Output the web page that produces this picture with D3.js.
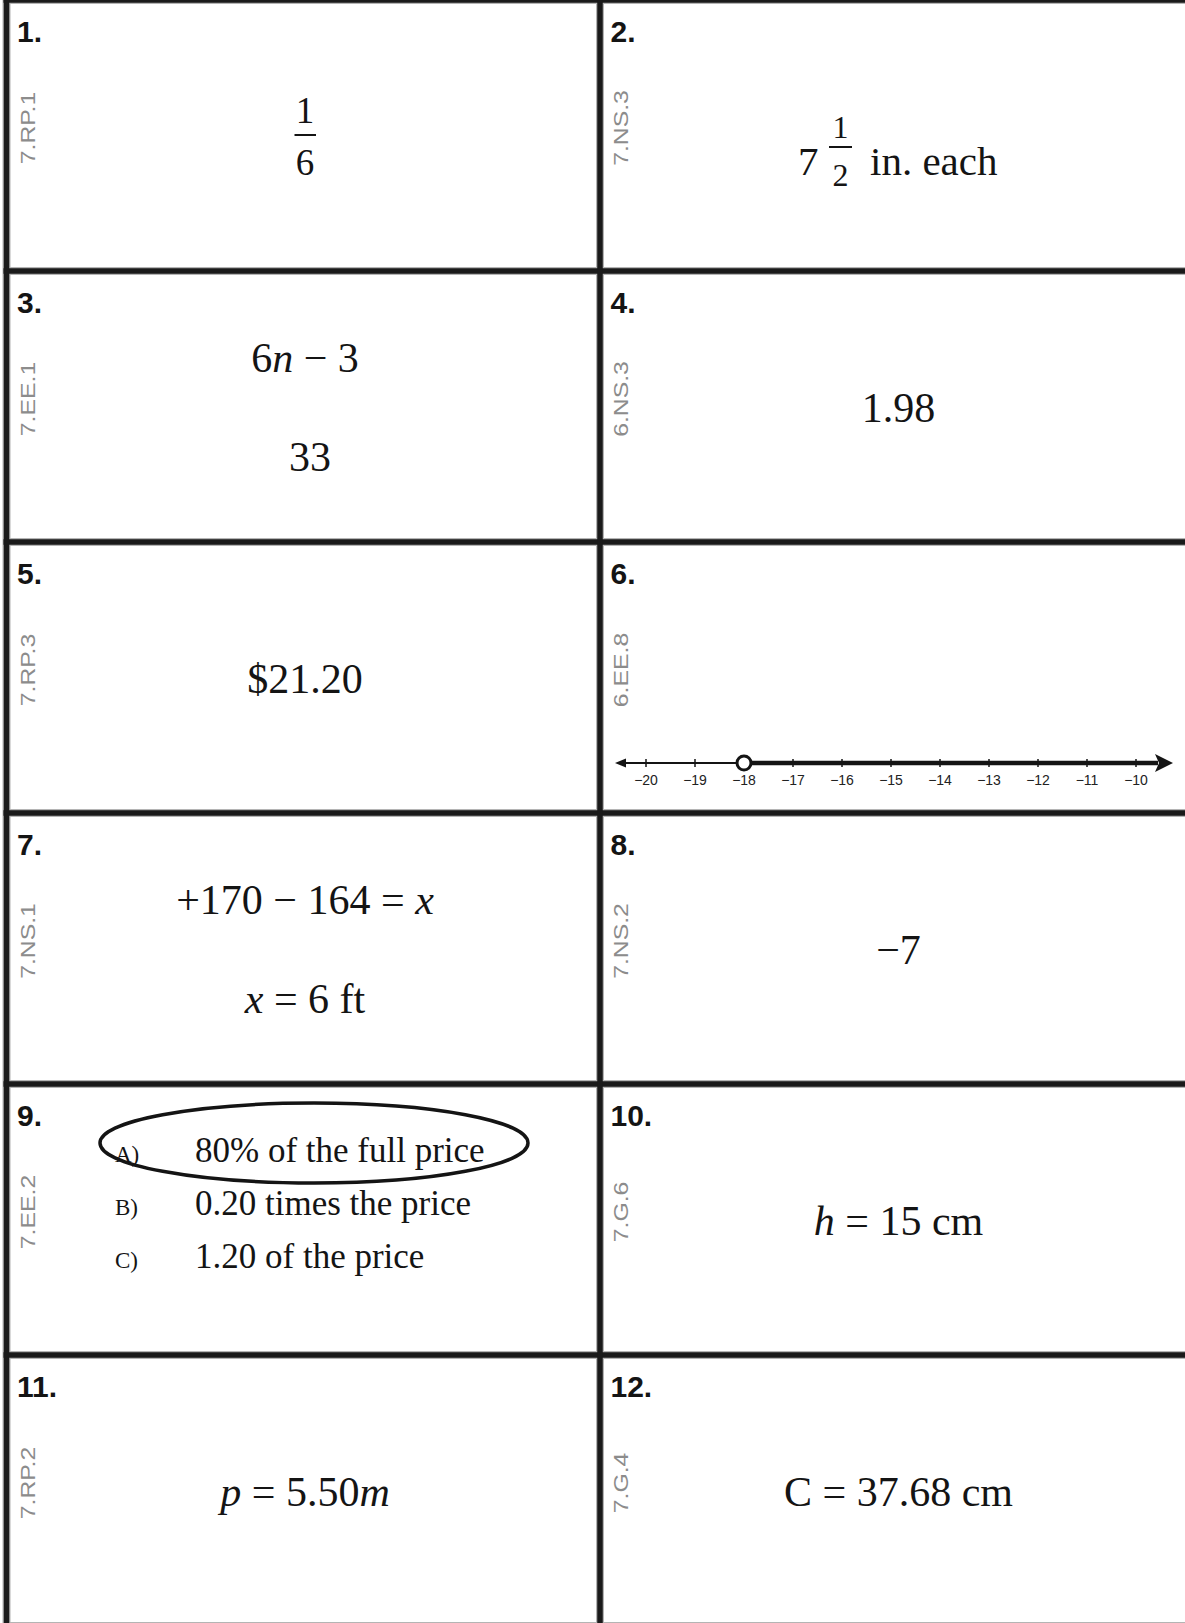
<!DOCTYPE html>
<html>
<head>
<meta charset="utf-8">
<script src="https://cdn.jsdelivr.net/npm/d3@7"></script>
<style>
  body { margin: 0; background: #fff; }
  text { white-space: pre; }
</style>
</head>
<body>
<svg id="sheet"></svg>
<script>
const W = 1185, H = 1623;

const itemNumbers = ['1.', '2.', '3.', '4.', '5.', '6.', '7.', '8.', '9.', '10.', '11.', '12.'];
const standards = ['7.RP.1', '7.NS.3', '7.EE.1', '6.NS.3', '7.RP.3', '6.EE.8',
                   '7.NS.1', '7.NS.2', '7.EE.2', '7.G.6', '7.RP.2', '7.G.4'];

// answer lines per item, each line a list of [text, italic] runs
const answerLines = [
  [],                                                   // 1: fraction
  [],                                                   // 2: mixed number
  [[['6', 0], ['n', 1], [' \u2212 3', 0]], [['33', 0]]],
  [[['1.98', 0]]],
  [[['$21.20', 0]]],
  [],                                                   // 6: number line
  [[['+170 \u2212 164 = ', 0], ['x', 1]], [['x', 1], [' = 6 ft', 0]]],
  [[['\u22127', 0]]],
  [],                                                   // 9: choices
  [[['h', 1], [' = 15 cm', 0]]],
  [[['p', 1], [' = 5.50', 0], ['m', 1]]],
  [[['C = 37.68 cm', 0]]]
];

const fracNum = '1', fracDen = '6';
const mixedWhole = '7', mixedNum = '1', mixedDen = '2', mixedUnit = 'in. each';

const lineTicks = [-20, -19, -18, -17, -16, -15, -14, -13, -12, -11, -10];
const openPoint = -18;

const choiceLetters = ['A)', 'B)', 'C)'];
const choiceTexts = ['80% of the full price', '0.20 times the price', '1.20 of the price'];
const circledChoice = 0;

const serif = "'Liberation Serif', 'Times New Roman', serif";
const sans = "'Liberation Sans', Arial, sans-serif";
const ink = '#141414';

const svg = d3.select('#sheet').attr('width', W).attr('height', H);
svg.append('rect').attr('width', W).attr('height', H).attr('fill', '#fff');

const rowY = d3.scaleLinear().domain([0, 6]).range([0, 1626]);
const colX = d3.scaleLinear().domain([0, 2]).range([6.5, 1193.5]);

const cells = d3.range(12).map(i => ({
  i, row: Math.floor(i / 2), col: i % 2,
  x0: colX(i % 2), y0: rowY(Math.floor(i / 2))
}));

const cell = svg.selectAll('g.cell')
  .data(cells)
  .join('g')
  .attr('class', 'cell')
  .attr('transform', d => `translate(${d.x0}, ${d.y0})`);

// question numbers
cell.append('text')
  .attr('x', 10.5)
  .attr('y', 42)
  .style('font-family', sans)
  .style('font-weight', 'bold')
  .style('font-size', '30px')
  .style('fill', ink)
  .text(d => itemNumbers[d.i]);

// standard labels, rotated
cell.append('text')
  .attr('transform', 'translate(28, 128) rotate(-90) scale(1.18, 1)')
  .attr('text-anchor', 'middle')
  .style('font-family', sans)
  .style('font-size', '21px')
  .style('fill', '#8c8c8c')
  .text(d => standards[d.i]);

// plain text answers
cell.each(function (d) {
  const lines = answerLines[d.i];
  if (!lines.length) return;
  const base = lines.length === 1 ? [151] : [101, 200];
  const g = d3.select(this);
  lines.forEach((runs, k) => {
    const shift = (d.i === 2 && k === 1) ? 5 : 0;   // "33" sits a bit right
    const t = g.append('text')
      .attr('x', 298.5 + shift)
      .attr('y', base[k])
      .attr('text-anchor', 'middle')
      .style('font-family', serif)
      .style('font-size', '42px')
      .style('fill', ink);
    runs.forEach(r => {
      t.append('tspan')
        .style('font-style', r[1] ? 'italic' : 'normal')
        .text(r[0]);
    });
  });
});

// 1: simple fraction
const c1 = cell.filter(d => d.i === 0);
c1.append('text').attr('x', 298.5).attr('y', 123).attr('text-anchor', 'middle')
  .style('font-family', serif).style('font-size', '37px').style('fill', ink).text(fracNum);
c1.append('line').attr('x1', 288).attr('x2', 309.5).attr('y1', 135).attr('y2', 135)
  .attr('stroke', ink).attr('stroke-width', 2);
c1.append('text').attr('x', 298.5).attr('y', 175).attr('text-anchor', 'middle')
  .style('font-family', serif).style('font-size', '37px').style('fill', ink).text(fracDen);

// 2: mixed number
const c2 = cell.filter(d => d.i === 1);
c2.append('text').attr('x', 198).attr('y', 175)
  .style('font-family', serif).style('font-size', '41px').style('fill', ink).text(mixedWhole);
c2.append('text').attr('x', 240.5).attr('y', 138).attr('text-anchor', 'middle')
  .style('font-family', serif).style('font-size', '32px').style('fill', ink).text(mixedNum);
c2.append('line').attr('x1', 229).attr('x2', 252).attr('y1', 147).attr('y2', 147)
  .attr('stroke', ink).attr('stroke-width', 2);
c2.append('text').attr('x', 240.5).attr('y', 186).attr('text-anchor', 'middle')
  .style('font-family', serif).style('font-size', '32px').style('fill', ink).text(mixedDen);
c2.append('text').attr('x', 270).attr('y', 175)
  .style('font-family', serif).style('font-size', '41px').style('fill', ink).text(mixedUnit);

// 6: number line
const c6 = cell.filter(d => d.i === 5);
const nx = d3.scaleLinear().domain([d3.min(lineTicks), d3.max(lineTicks)]).range([46, 536]);
const ny = 221;
c6.append('line').attr('x1', 20).attr('x2', nx(openPoint)).attr('y1', ny).attr('y2', ny)
  .attr('stroke', ink).attr('stroke-width', 2);
c6.append('path').attr('d', `M15,${ny} L26,${ny - 4.5} L26,${ny + 4.5} Z`).attr('fill', ink);
c6.selectAll('line.tick')
  .data(lineTicks)
  .join('line')
  .attr('class', 'tick')
  .attr('x1', d => nx(d)).attr('x2', d => nx(d))
  .attr('y1', ny - 4).attr('y2', ny + 4)
  .attr('stroke', ink).attr('stroke-width', 1.5);
c6.selectAll('text.tlab')
  .data(lineTicks)
  .join('text')
  .attr('class', 'tlab')
  .attr('x', d => nx(d))
  .attr('y', ny + 22)
  .attr('text-anchor', 'middle')
  .style('font-family', sans)
  .style('font-size', '14px')
  .style('fill', '#222')
  .text(d => '\u2212' + Math.abs(d));
c6.append('line').attr('x1', nx(openPoint)).attr('x2', 1158 - 600).attr('y1', ny).attr('y2', ny)
  .attr('stroke', ink).attr('stroke-width', 4.5);
c6.append('path').attr('d', `M573,${ny} L555,${ny - 9} L559,${ny} L555,${ny + 9} Z`).attr('fill', ink);
c6.append('circle').attr('cx', nx(openPoint)).attr('cy', ny).attr('r', 7)
  .attr('fill', '#fff').attr('stroke', ink).attr('stroke-width', 3);

// 9: multiple choice
const c9 = cell.filter(d => d.i === 8);
const choiceY = d3.scalePoint().domain(choiceLetters).range([78, 184]);
c9.selectAll('text.letter')
  .data(choiceLetters)
  .join('text')
  .attr('class', 'letter')
  .attr('x', 108.5)
  .attr('y', d => choiceY(d))
  .style('font-family', serif)
  .style('font-size', '23px')
  .style('fill', ink)
  .text(d => d);
c9.selectAll('text.choice')
  .data(choiceTexts)
  .join('text')
  .attr('class', 'choice')
  .attr('x', 188.5)
  .attr('y', (d, k) => choiceY(choiceLetters[k]))
  .style('font-family', serif)
  .style('font-size', '35px')
  .style('fill', ink)
  .text(d => d);
c9.append('ellipse')
  .attr('cx', 307.5)
  .attr('cy', choiceY(choiceLetters[circledChoice]) - 19)
  .attr('rx', 214).attr('ry', 40)
  .attr('fill', 'none').attr('stroke', ink).attr('stroke-width', 3.5);

// grid lines
const grid = svg.append('g');
const hLines = d3.range(7), vLines = d3.range(3);
[['#b4b4b4', 8], ['#1a1a1a', 5.5]].forEach(([c, w]) => {
  grid.selectAll(null).data(hLines).join('line')
    .attr('x1', colX(0) - 3).attr('x2', colX(2) + 3)
    .attr('y1', d => rowY(d)).attr('y2', d => rowY(d))
    .attr('stroke', c).attr('stroke-width', w);
  grid.selectAll(null).data(vLines).join('line')
    .attr('x1', d => colX(d)).attr('x2', d => colX(d))
    .attr('y1', rowY(0) - 3).attr('y2', rowY(6) + 3)
    .attr('stroke', c).attr('stroke-width', w);
});
</script>
</body>
</html>
